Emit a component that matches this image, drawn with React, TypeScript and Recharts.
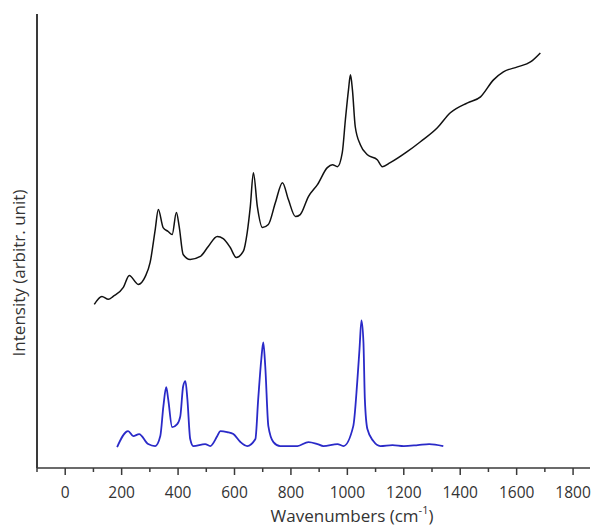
import React from "react";
import { LineChart, Line, XAxis, YAxis } from "recharts";

// Wavenumber (cm-1) positions and intensities (arbitrary units)
const topWavenumbers = [103, 130, 153, 170, 206, 227, 259, 284, 301, 319, 330, 347, 365, 379, 394, 404, 418, 443, 479, 507, 539, 560, 585, 606, 631, 645, 656, 667, 681, 699, 720, 745, 770, 791, 816, 833, 862, 894, 929, 947, 965, 982, 993, 1004, 1011, 1018, 1028, 1046, 1071, 1106, 1124, 1152, 1212, 1259, 1319, 1365, 1426, 1472, 1518, 1553, 1603, 1649, 1684];
const topIntensity = [164, 172, 169, 172, 181, 193, 184, 192, 206, 239, 259, 241, 237, 234, 256, 242, 214, 209, 212, 222, 232, 230, 221, 211, 217, 236, 262, 296, 262, 241, 244, 266, 286, 269, 252, 254, 272, 284, 301, 304, 302, 316, 349, 379, 394, 379, 342, 324, 314, 309, 302, 306, 317, 327, 341, 356, 366, 372, 389, 397, 402, 407, 416];

const bottomWavenumbers = [184, 223, 241, 262, 294, 319, 337, 348, 358, 365, 379, 397, 408, 418, 426, 433, 443, 454, 496, 514, 539, 550, 574, 596, 621, 645, 674, 684, 695, 702, 709, 720, 738, 762, 823, 862, 894, 915, 965, 986, 1021, 1035, 1043, 1050, 1057, 1062, 1071, 1092, 1117, 1160, 1200, 1250, 1290, 1340];
const bottomIntensity = [21, 37, 32, 34, 24, 22, 32, 62, 81, 69, 41, 44, 52, 82, 87, 69, 29, 22, 24, 22, 32, 37, 36, 34, 26, 22, 29, 69, 109, 126, 102, 42, 26, 22, 22, 26, 24, 22, 24, 22, 42, 86, 119, 148, 126, 69, 39, 27, 22, 23, 22, 23, 24, 22];

const xTicks = [-100, 0, 100, 200, 300, 400, 500, 600, 700, 800, 900, 1000, 1100, 1200, 1300, 1400, 1500, 1600, 1700, 1800];

const topData = topWavenumbers.map((w, i) => ({ w, v: topIntensity[i] }));
const bottomData = bottomWavenumbers.map((w, i) => ({ w, v: bottomIntensity[i] }));

const FONT = "'Open Sans', sans-serif";
const AXIS = "#3a3a3a";

const XTick = (props: any) => {
  const { x, y, payload } = props;
  const v = payload.value;
  const major = v % 200 === 0;
  return (
    <g>
      <line x1={x} x2={x} y1={y} y2={y + (major ? 7 : 4)} stroke={AXIS} strokeWidth={1.5} />
      {major && v >= 0 && (
        <text x={x} y={y + 24} textAnchor="middle" dominantBaseline="central" fontFamily={FONT} fontSize={15.5} fill="#333">
          {v}
        </text>
      )}
    </g>
  );
};

const XLabel = () => (
  <text x={352} y={515} textAnchor="middle" dominantBaseline="central" fontFamily={FONT} fontSize={17} fill="#333">
    Wavenumbers (cm
    <tspan fontSize={11} dy={-6}>-1</tspan>
    <tspan dy={6}>)</tspan>
  </text>
);

const YLabel = () => (
  <text x={18} y={273} transform="rotate(-90 18 273)" textAnchor="middle" dominantBaseline="central" fontFamily={FONT} fontSize={17} fill="#333">
    Intensity (arbitr. unit)
  </text>
);

export default function App() {
  return (
    <div style={{ position: "absolute", left: 0, top: 0, background: "#fff" }}>
      <LineChart width={597} height={529} margin={{ top: 14, right: 7, bottom: 60, left: 36 }}>
        <XAxis
          dataKey="w"
          type="number"
          domain={[-100, 1860]}
          ticks={xTicks}
          interval={0}
          height={1}
          tickSize={0}
          tickMargin={0}
          tickLine={false}
          tick={<XTick />}
          axisLine={{ stroke: AXIS, strokeWidth: 1.5 }}
          allowDataOverflow
          label={<XLabel />}
        />
        <YAxis
          type="number"
          domain={[0, 455]}
          width={1}
          tick={false}
          tickLine={false}
          axisLine={{ stroke: AXIS, strokeWidth: 2 }}
          label={<YLabel />}
        />
        <Line data={topData} dataKey="v" type="monotone" stroke="#111" strokeWidth={1.5} dot={false} isAnimationActive={false} />
        <Line data={bottomData} dataKey="v" type="monotone" stroke="#2a2ac8" strokeWidth={1.8} dot={false} isAnimationActive={false} />
      </LineChart>
    </div>
  );
}
